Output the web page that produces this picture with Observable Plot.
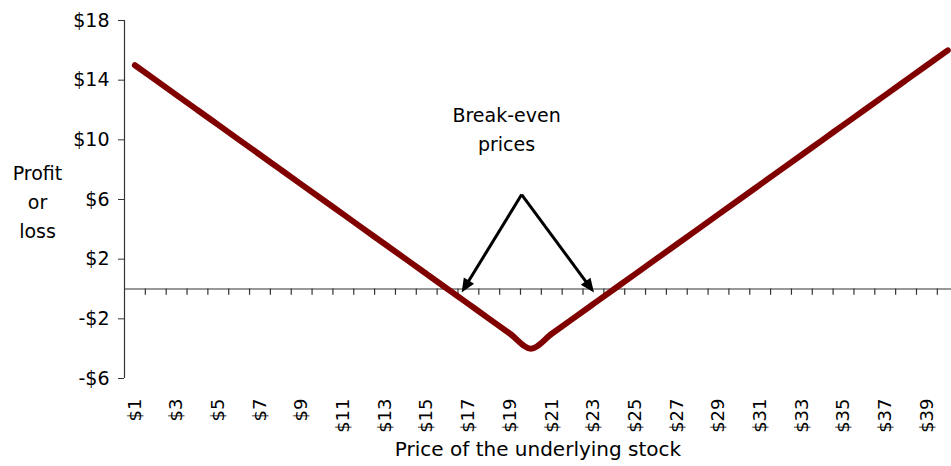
<!DOCTYPE html>
<html>
<head>
<meta charset="utf-8">
<script src="https://cdn.jsdelivr.net/npm/d3@7"></script>
<script src="https://cdn.jsdelivr.net/npm/@observablehq/plot@0.6"></script>
<style>
  html, body { margin: 0; padding: 0; background: #fff; }
  #chart svg { display: block; }
</style>
</head>
<body>
<div id="chart"></div>
<script>
// Stock prices (categories) and profit/loss of the position
const prices = [1,2,3,4,5,6,7,8,9,10,11,12,13,14,15,16,17,18,19,20,21,22,23,24,25,26,27,28,29,30,31,32,33,34,35,36,37,38,39,40];
const profit = [15,14,13,12,11,10,9,8,7,6,5,4,3,2,1,0,-1,-2,-3,-4,-3,-2,-1,0,1,2,3,4,5,6,7,8,9,10,11,12,13,14,15,16];
// Tick labels
const xTickLabels = [1,3,5,7,9,11,13,15,17,19,21,23,25,27,29,31,33,35,37,39];
const yTicks = [-6,-2,2,6,10,14,18];
// Category boundaries (tick marks on the zero line)
const xBoundaries = prices.slice(0, 39).map(p => p + 0.5);
// Annotation: "Break-even prices" with two arrows
const noteText = ["Break-even\nprices"];
const noteX = [18.83];
const noteY = [10.87];
const arrowFromX = [19.58, 19.58];
const arrowFromY = [6.3, 6.3];
const arrowToX = [16.7, 23.05];
const arrowToY = [-0.27, -0.27];

const fmt = d => (d < 0 ? "-$" + (-d) : "$" + d);

const arrowsMark = (index, scales, values, dimensions, context) => {
  const g = d3.create("svg:g");
  for (let i = 0; i < arrowToX.length; i++) {
    const x1 = scales.x(arrowFromX[i]), y1 = scales.y(arrowFromY[i]);
    const x2 = scales.x(arrowToX[i]), y2 = scales.y(arrowToY[i]);
    const len = Math.hypot(x2 - x1, y2 - y1);
    const ux = (x2 - x1) / len, uy = (y2 - y1) / len;
    const hl = 14, hw = 6;
    const bx = x2 - ux * hl, by = y2 - uy * hl;
    g.append("line")
      .attr("x1", x1).attr("y1", y1)
      .attr("x2", bx + ux * 2).attr("y2", by + uy * 2)
      .attr("stroke", "#000").attr("stroke-width", 3).attr("stroke-linecap", "butt");
    g.append("path")
      .attr("d", `M${x2},${y2}L${bx - uy * hw},${by + ux * hw}L${bx + uy * hw},${by - ux * hw}Z`)
      .attr("fill", "#000");
  }
  return g.node();
};

const chart = Plot.plot({
  width: 951,
  height: 466,
  marginLeft: 124,
  marginRight: 0,
  marginTop: 20,
  marginBottom: 88,
  x: { domain: [0.5, 40.18], axis: null },
  y: { domain: [-6, 18], axis: null },
  style: { fontFamily: "DejaVu Sans, sans-serif", fontSize: "19px", color: "#000", background: "#fff" },
  marks: [
    Plot.ruleX([0.5], { y1: -6, y2: 18, stroke: "#333", strokeWidth: 1.2 }),
    Plot.axisY({ ticks: yTicks, tickSize: 6, tickPadding: 9, tickFormat: fmt, label: null, fontSize: 19, stroke: "#333" }),
    Plot.ruleY([0], { stroke: "#333", strokeWidth: 1.2 }),
    Plot.ruleX(xBoundaries, { x: d => d, y1: 0, y2: -0.42, stroke: "#333", strokeWidth: 1.2 }),
    Plot.text(xTickLabels, { x: d => d, y: -6, dy: 20, rotate: -90, textAnchor: "end", text: d => "$" + d, fontSize: 18 }),
    Plot.line(prices, { x: prices, y: profit, stroke: "#800000", strokeWidth: 6, curve: "monotone-x", strokeLinecap: "round", strokeLinejoin: "round" }),
    arrowsMark,
    Plot.text(noteText, { x: noteX, y: noteY, text: d => d, textAnchor: "middle", lineHeight: 1.55, fontSize: 19 }),
    Plot.text(["Profit\nor\nloss"], { frameAnchor: "left", dx: -87, textAnchor: "middle", lineHeight: 1.53, fontSize: 19 }),
    Plot.text(["Price of the underlying stock"], { frameAnchor: "bottom", dy: 77, textAnchor: "middle", fontSize: 20 })
  ]
});
document.getElementById("chart").appendChild(chart);
</script>
</body>
</html>
